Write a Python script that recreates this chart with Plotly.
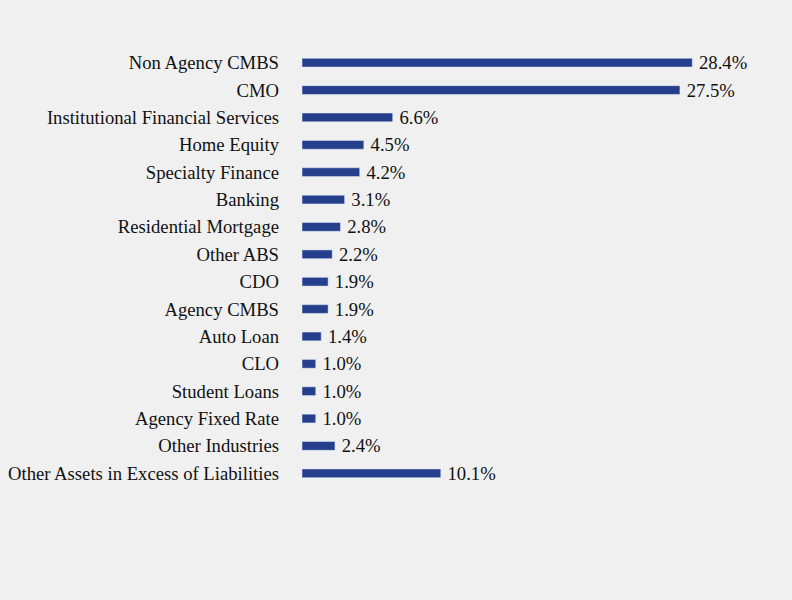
import plotly.graph_objects as go

categories = [
    "Non Agency CMBS",
    "CMO",
    "Institutional Financial Services",
    "Home Equity",
    "Specialty Finance",
    "Banking",
    "Residential Mortgage",
    "Other ABS",
    "CDO",
    "Agency CMBS",
    "Auto Loan",
    "CLO",
    "Student Loans",
    "Agency Fixed Rate",
    "Other Industries",
    "Other Assets in Excess of Liabilities",
]
values = [28.4, 27.5, 6.6, 4.5, 4.2, 3.1, 2.8, 2.2, 1.9, 1.9, 1.4, 1.0, 1.0, 1.0, 2.4, 10.1]
labels = [f"\u2009{v:.1f}%" for v in values]

SERIF = "Liberation Serif, Times New Roman, serif"

fig = go.Figure(
    go.Bar(
        x=values,
        y=categories,
        orientation="h",
        text=labels,
        textposition="outside",
        constraintext="none",
        cliponaxis=False,
        width=0.32,
        marker=dict(color="#263f8c"),
        textfont=dict(family=SERIF, size=18.67, color="#111111"),
    )
)

fig.update_layout(
    width=792,
    height=600,
    paper_bgcolor="#f0f0f0",
    plot_bgcolor="#f0f0f0",
    showlegend=False,
    font=dict(family=SERIF, size=18.67, color="#111111"),
    margin=dict(l=302, r=9, t=49, b=113),
    xaxis=dict(range=[0, 35], visible=False),
    yaxis=dict(
        autorange="reversed",
        showgrid=False,
        zeroline=False,
        showline=False,
        ticks="",
        ticklabelstandoff=22,
        tickfont=dict(family=SERIF, size=18.67, color="#111111"),
    ),
)

fig.write_html(
    "out.html",
    config=dict(displayModeBar=False),
    post_script="document.body.style.margin='0';document.body.style.background='#f0f0f0';",
)
